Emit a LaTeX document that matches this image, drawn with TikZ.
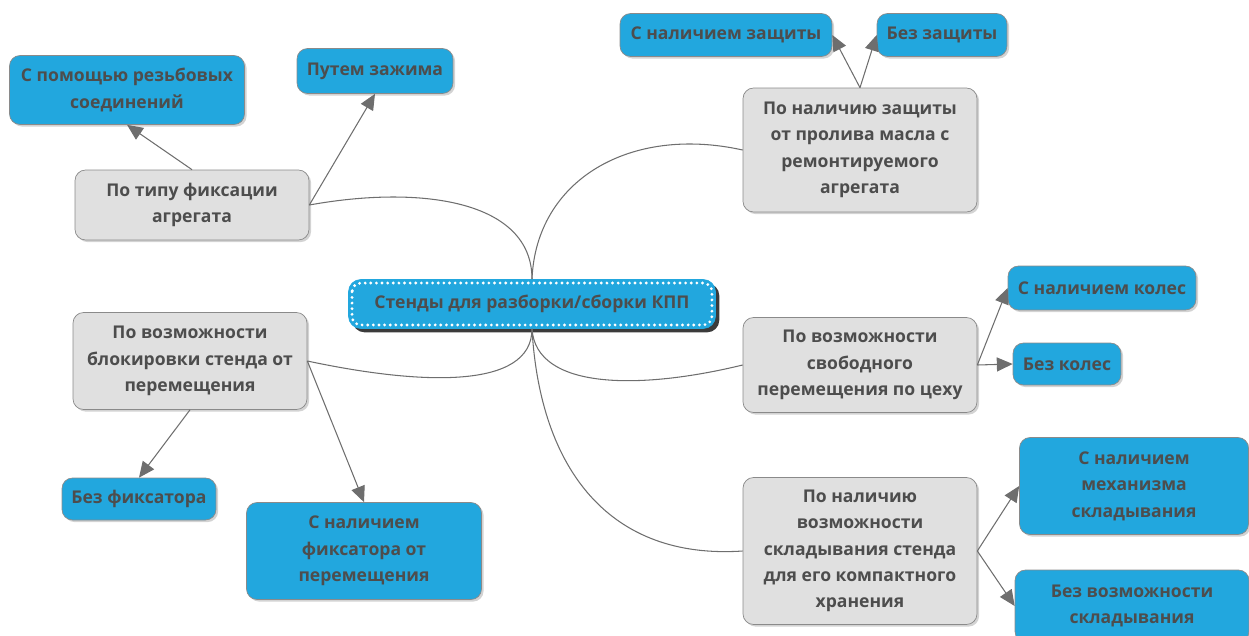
\documentclass[tikz,border=0pt]{standalone}
\usepackage{fontspec}
\setmainfont{Open Sans}
\usepackage{xcolor}
\usepackage{tikz}
\usetikzlibrary{shapes, arrows.meta, shadows}
\definecolor{boxblue}{HTML}{22A7DE}
\definecolor{boxgray}{HTML}{E0E0E0}
\definecolor{edgegray}{HTML}{8A8A8A}
\definecolor{linegray}{HTML}{6E6E6E}
\definecolor{textgray}{HTML}{4D4D4D}
\tikzstyle{base} = [rectangle, rounded corners=6pt, text centered, align=center, draw=edgegray, thin,
    text=textgray, font=\fontsize{10}{15}\selectfont\bfseries, inner sep=2pt,
    drop shadow={shadow xshift=1.2pt, shadow yshift=-1.2pt, opacity=0.35}]
\tikzstyle{category} = [base, fill=boxgray]
\tikzstyle{leaf} = [base, fill=boxblue]
\tikzstyle{central} = [rectangle, rounded corners=7pt, text centered, fill=boxblue, draw=boxblue,
    text=textgray, font=\fontsize{10}{15}\selectfont\bfseries,
    drop shadow={shadow xshift=2.2pt, shadow yshift=-2.2pt, opacity=0.9, fill=black!85}]
\tikzstyle{arrow} = [linegray, line width=0.6pt, -{Triangle[length=9pt, width=8pt]}]
\tikzstyle{branch} = [linegray, line width=0.6pt]

\begin{document}
\begin{tikzpicture}[x=0.02cm, y=-0.02cm]
\useasboundingbox (0,0) rectangle (1249,636);

\node (root) [central, minimum width=7.34cm, minimum height=0.98cm] at (532,304) {Стенды для разборки/сборки КПП};
\draw [white, line width=1.8pt, line cap=round, dash pattern=on 0pt off 3.2pt, rounded corners=5pt]
    ([shift={(2.2pt,-2.2pt)}]root.north west) rectangle ([shift={(-2.2pt,2.2pt)}]root.south east);

\node (fix) [category, minimum width=4.68cm, minimum height=1.4cm] at (192,205) {По типу фиксации\\агрегата};
\node (fixthr) [leaf, minimum width=4.7cm, minimum height=1.38cm] at (127,90) {С помощью резьбовых\\соединений};
\node (fixclamp) [leaf, minimum width=3.12cm, minimum height=0.9cm] at (375,71) {Путем зажима};

\node (prot) [category, minimum width=4.68cm, minimum height=2.48cm] at (860,150) {По наличию защиты\\от пролива масла с\\ремонтируемого\\агрегата};
\node (protyes) [leaf, minimum width=4.24cm, minimum height=0.86cm] at (726,35) {С наличием защиты};
\node (protno) [leaf, minimum width=2.6cm, minimum height=0.86cm] at (942,35) {Без защиты};

\node (lock) [category, minimum width=4.68cm, minimum height=1.94cm] at (190,361) {По возможности\\блокировки стенда от\\перемещения};
\node (lockno) [leaf, minimum width=3.08cm, minimum height=0.84cm] at (139,499) {Без фиксатора};
\node (lockyes) [leaf, minimum width=4.7cm, minimum height=1.94cm] at (364,551) {С наличием\\фиксатора от\\перемещения};

\node (move) [category, minimum width=4.68cm, minimum height=1.9cm] at (860,365) {По возможности\\свободного\\перемещения по цеху};
\node (wheels) [leaf, minimum width=3.76cm, minimum height=0.88cm] at (1102,288) {С наличием колес};
\node (nowheels) [leaf, minimum width=2.16cm, minimum height=0.84cm] at (1067,364) {Без колес};

\node (fold) [category, minimum width=4.68cm, minimum height=2.94cm] at (860,551) {По наличию\\возможности\\складывания стенда\\для его компактного\\хранения};
\node (foldyes) [leaf, minimum width=4.58cm, minimum height=1.94cm] at (1134,486) {С наличием\\механизма\\складывания};
\node (foldno) [leaf, minimum width=4.68cm, minimum height=1.44cm] at (1132,606) {Без возможности\\складывания};

\draw [branch] (root.north) .. controls (532,200) and (420,185) .. (fix.east);
\draw [branch] (root.north) .. controls (536,180) and (630,125) .. (prot.west);
\draw [branch] (root.south) .. controls (532,390) and (420,385) .. (lock.east);
\draw [branch] (root.south) .. controls (536,390) and (640,390) .. (move.west);
\draw [branch] (root.south) .. controls (540,470) and (610,560) .. (fold.west);

\draw [arrow] (fix.north) -- (fixthr.south);
\draw [arrow] (fix.east) -- (fixclamp.south);
\draw [arrow] (prot.north) -- (protyes.east);
\draw [arrow] (prot.north) -- (protno.west);
\draw [arrow] (lock.south) -- (lockno.north);
\draw [arrow] (lock.east) -- (lockyes.north);
\draw [arrow] (move.east) -- (wheels.west);
\draw [arrow] (move.east) -- (nowheels.west);
\draw [arrow] (fold.east) -- (foldyes.west);
\draw [arrow] (fold.east) -- (foldno.west);

\end{tikzpicture}
\end{document}
